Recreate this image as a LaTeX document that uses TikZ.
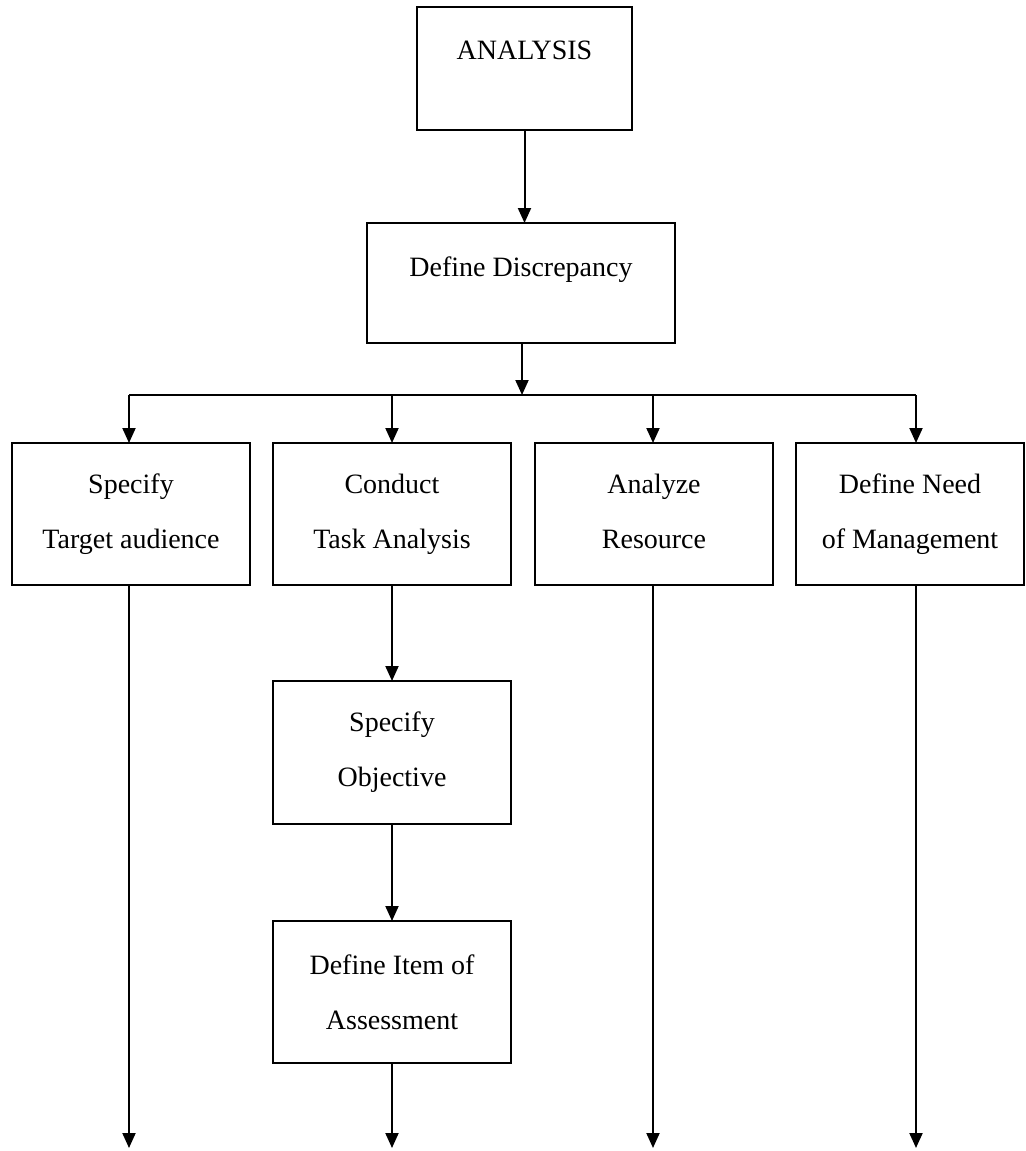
\documentclass[tikz,border=0pt]{standalone}
\usepackage{fontspec}
\setmainfont{Liberation Serif}
\usetikzlibrary{arrows.meta}

\begin{document}
\begin{tikzpicture}[
  x=0.5pt, y=-0.5pt,
  box/.style={draw, line width=1.2pt, rectangle, inner sep=0pt, outer sep=0pt,
              align=center, font=\fontsize{14pt}{27.5pt}\selectfont},
  lbl/.style={inner sep=0pt, font=\fontsize{14pt}{27.5pt}\selectfont},
  flow/.style={line width=1pt, -{Triangle[width=6.5pt,length=7.5pt]}},
  link/.style={line width=1pt}
]
% page frame
\useasboundingbox (0,0) rectangle (1026,1151);

% top of the chart
\node[box, minimum width=107.5pt, minimum height=61.5pt] (ana) at (524.5,68.5) {};
\node[lbl] (anat) at (524.5,50) {ANALYSIS};

\node[box, minimum width=154pt, minimum height=60pt] (dd) at (521,283) {};
\node[lbl] (ddt) at (521,270) {Define Discrepancy};

% four branches
\node[box, minimum width=119pt, minimum height=71pt] (b1) at (131,514) {Specify\\Target audience};
\node[box, minimum width=119pt, minimum height=71pt] (b2) at (392,514) {Conduct\\Task Analysis};
\node[box, minimum width=119pt, minimum height=71pt] (b3) at (654,514) {Analyze\\Resource\vphantom{y}};
\node[box, minimum width=114pt, minimum height=71pt] (b4) at (910,514) {Define Need\\of Management};

% task analysis chain
\node[box, minimum width=119pt, minimum height=71.5pt] (so) at (392,752.5) {Specify\\Objective};
\node[box, minimum width=119pt, minimum height=71pt] (di) at (392,992) {Define Item of\\Assessment};

% branching bar
\coordinate (j0) at (522,395);
\coordinate (j1) at (129,395);
\coordinate (j2) at (392,395);
\coordinate (j3) at (653,395);
\coordinate (j4) at (916,395);

% loose ends at the bottom
\coordinate (e1) at (129,1148);
\coordinate (e2) at (392,1148);
\coordinate (e3) at (653,1148);
\coordinate (e4) at (916,1148);

% connectors
\draw[flow] (ana.south) -- (ana.south |- dd.north);
\draw[flow] (j0 |- dd.south) -- (j0);
\draw[link] (j1) -- (j4);
\draw[flow] (j1) -- (j1 |- b1.north);
\draw[flow] (j2) -- (j2 |- b2.north);
\draw[flow] (j3) -- (j3 |- b3.north);
\draw[flow] (j4) -- (j4 |- b4.north);

\draw[flow] (b2.south) -- (so.north);
\draw[flow] (so.south) -- (di.north);

\draw[flow] (e1 |- b1.south) -- (e1);
\draw[flow] (di.south) -- (e2);
\draw[flow] (e3 |- b3.south) -- (e3);
\draw[flow] (e4 |- b4.south) -- (e4);
\end{tikzpicture}
\end{document}
